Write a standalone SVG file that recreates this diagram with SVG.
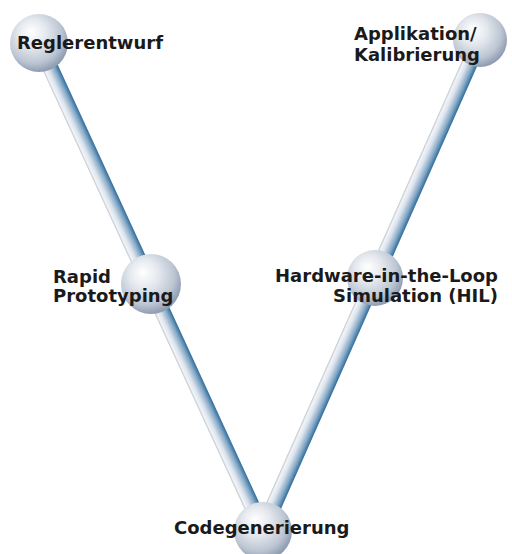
<svg xmlns="http://www.w3.org/2000/svg" width="512" height="554" viewBox="0 0 512 554">
  <defs>
    <linearGradient id="tubeGrad" x1="0" y1="1" x2="0" y2="0">
      <stop offset="0" stop-color="#bcc4ce"/>
      <stop offset="0.12" stop-color="#f2f4f7"/>
      <stop offset="0.35" stop-color="#dbe3ec"/>
      <stop offset="0.72" stop-color="#86a9c7"/>
      <stop offset="1" stop-color="#2d6b9b"/>
    </linearGradient>
    <radialGradient id="sphereGrad" cx="0.42" cy="0.38" r="0.62" fx="0.36" fy="0.3">
      <stop offset="0" stop-color="#ffffff"/>
      <stop offset="0.4" stop-color="#e4e8ee"/>
      <stop offset="0.78" stop-color="#bcc5d2"/>
      <stop offset="1" stop-color="#8f9db2"/>
    </radialGradient>
  </defs>
  <style>
    .tube { fill: url(#tubeGrad); }
    .sphere { fill: url(#sphereGrad); }
    .lbl { font-family: "DejaVu Sans", Verdana, sans-serif; font-weight: bold; font-size: 18px; fill: #1a1a1a; }
  </style>
  <rect width="512" height="554" fill="#ffffff"/>

  <g id="connectors">
    <!-- left tube: (39,43) -> (263,530) -->
    <g transform="translate(39,43) rotate(65.3)">
      <rect class="tube" x="0" y="-8" width="536" height="16"/>
    </g>
    <!-- right tube: (480,40) -> (263,530) -->
    <g transform="translate(480,40) rotate(113.9)">
      <rect class="tube" x="0" y="-8" width="536" height="16"/>
    </g>
  </g>

  <g id="node-reglerentwurf">
    <circle class="sphere" cx="39" cy="43" r="29"/>
    <text class="lbl" x="17" y="49">Reglerentwurf</text>
  </g>

  <g id="node-applikation">
    <circle class="sphere" cx="480" cy="40" r="27"/>
    <text class="lbl" x="354" y="40">Applikation/</text>
    <text class="lbl" x="354" y="61">Kalibrierung</text>
  </g>

  <g id="node-rapid-prototyping">
    <circle class="sphere" cx="151" cy="284" r="30"/>
    <text class="lbl" x="53" y="283">Rapid</text>
    <text class="lbl" x="53" y="302">Prototyping</text>
  </g>

  <g id="node-hil">
    <circle class="sphere" cx="375" cy="278" r="28"/>
    <text class="lbl" x="498" y="282" text-anchor="end">Hardware-in-the-Loop</text>
    <text class="lbl" x="498" y="302" text-anchor="end">Simulation (HIL)</text>
  </g>

  <g id="node-codegenerierung">
    <circle class="sphere" cx="263" cy="531" r="29"/>
    <text class="lbl" x="174" y="534">Codegenerierung</text>
  </g>
</svg>
